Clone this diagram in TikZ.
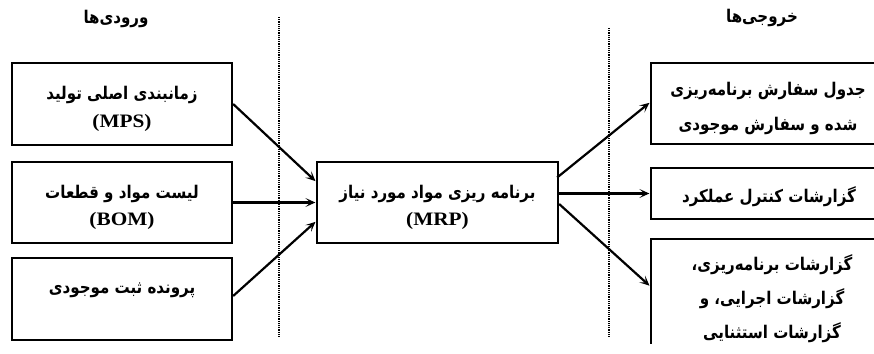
\documentclass[tikz,border=0pt]{standalone}
\usepackage{fontspec}
\usetikzlibrary{arrows.meta,calc}
\TeXXeTstate=1
\newfontfamily\fafont[Script=Arabic,FakeStretch=0.86]{DejaVu Sans}
\newfontfamily\lafont[FakeStretch=1.12]{Liberation Serif}
\newcommand{\fa}[1]{{\fafont\bfseries\fontsize{17.5}{20}\selectfont\beginR #1\endR}}
\newcommand{\la}[1]{{\lafont\bfseries\fontsize{19}{22}\selectfont #1}}
\tikzset{
  x=1pt, y=-1pt,
  box/.style={draw, line width=2.3pt, inner sep=0pt},
  txt/.style={align=center, inner sep=0pt},
  flow/.style={line width=2.2pt, -{Stealth[length=10pt,width=9pt,inset=5pt]}, shorten >=0.5pt},
  divider/.style={line width=1.2pt, dash pattern=on 1.2pt off 1pt},
}
\begin{document}
\begin{tikzpicture}
\useasboundingbox (0,0) rectangle (874,353);
\clip (0,0) rectangle (874,353);
\fill[white] (0,0) rectangle (874,353);

% column headings
\node (hin) at (116,19) {\fa{ورودی‌ها}};
\node (hout) at (762,18) {\fa{خروجی‌ها}};

% dotted separators
\coordinate (d1t) at (279,17);
\coordinate (d1b) at (279,338);
\coordinate (d2t) at (609,28);
\coordinate (d2b) at (609,337);
\draw[divider] (d1t) -- (d1b);
\draw[divider] (d2t) -- (d2b);

% input boxes
\node[box, minimum width=220pt, minimum height=82pt] (in1) at (122,104) {};
\node[box, minimum width=220pt, minimum height=81pt] (in2) at (122,202.5) {};
\node[box, minimum width=220pt, minimum height=82pt] (in3) at (122,299) {};
\node[txt] (in1t) at ($(in1.center)+(0,-5pt)$)
  {\fa{زمانبندی اصلی تولید}\\[9pt]\la{(MPS)}};
\node[txt] (in2t) at ($(in2.center)+(0,-5pt)$)
  {\fa{لیست مواد و قطعات}\\[9pt]\la{(BOM)}};
\node[txt] (in3t) at ($(in3.center)+(0,9pt)$) {\fa{پرونده ثبت موجودی}};

% MRP
\node[box, minimum width=241pt, minimum height=81pt] (mrp) at (437.5,202.5) {};
\node[txt] (mrpt) at ($(mrp.center)+(0,-5pt)$)
  {\fa{برنامه ریزی مواد مورد نیاز}\\[9pt]\la{(MRP)}};

% output boxes, open on the right and running past the edge
\node[box, minimum width=236pt, minimum height=81pt] (out1) at (769,103.5) {};
\node[box, minimum width=236pt, minimum height=51pt] (out2) at (769,193.5) {};
\begin{scope}
  \clip (600,200) rectangle (874,343);
  \node[box, minimum width=236pt, minimum height=121pt] (out3) at (769,299.5) {};
\end{scope}
\node[txt] (out1t) at ($(out1.center)+(-1pt,-5pt)$)
  {\fa{جدول سفارش برنامه‌ریزی}\\[16pt]\fa{شده و سفارش موجودی}};
\node[txt] (out2t) at ($(out2.center)+(0,-3pt)$) {\fa{گزارشات کنترل عملکرد}};
\node[txt] (out3t) at ($(out3.center)+(3pt,1pt)$)
  {\fa{گزارشات برنامه‌ریزی،}\\[13pt]\fa{گزارشات اجرایی، و}\\[13pt]\fa{گزارشات استثنایی}};

% flows into MRP
\draw[flow] (in1.east) -- ($(mrp.west)+(0,21pt)$);
\draw[flow] (in2.east) -- (mrp.west);
\draw[flow] ($(in3.east)+(0,3pt)$) -- ($(mrp.west)+(0,-19pt)$);

% flows out of MRP
\draw[flow] ($(mrp.east)+(-2pt,25pt)$) -- ($(out1.west)+(0,1pt)$);
\draw[flow] (mrp.east |- out2.west) -- (out2.west);
\draw[flow] ($(mrp.east)+(0,-1.5pt)$) -- ($(out3.west)+(0,13.5pt)$);
\end{tikzpicture}
\end{document}
